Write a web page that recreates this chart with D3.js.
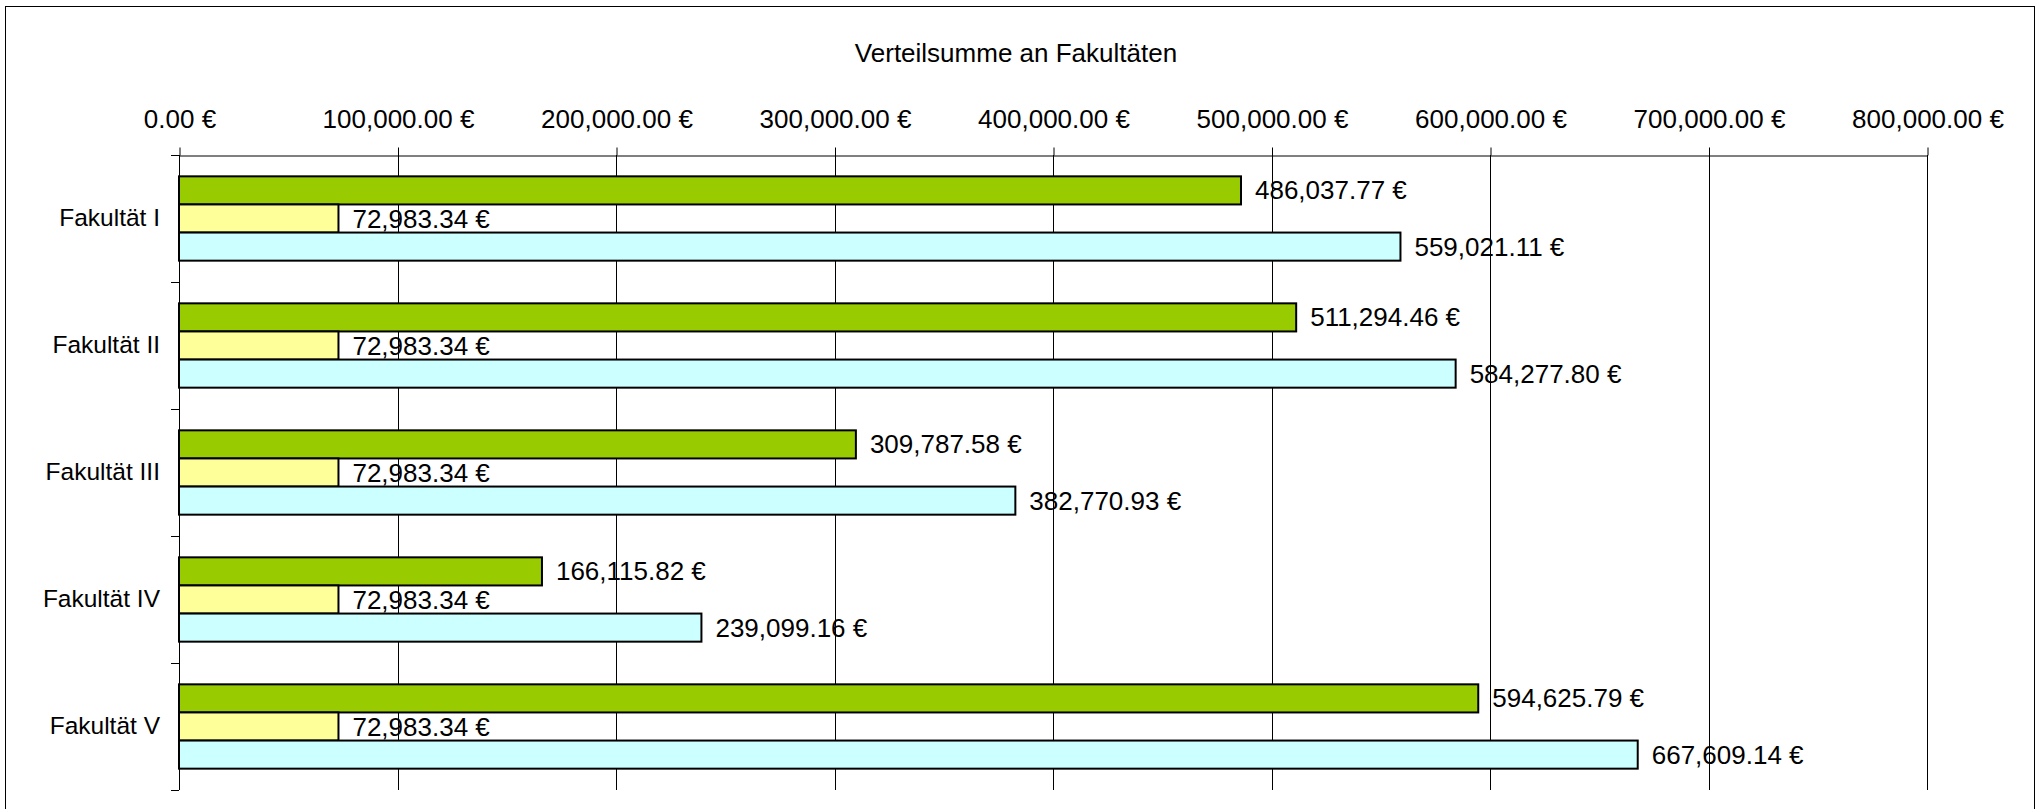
<!DOCTYPE html>
<html>
<head>
<meta charset="utf-8">
<script src="https://cdn.jsdelivr.net/npm/d3@7"></script>
<style>
  body { margin: 0; background: #fff; }
  svg text { font-family: "Liberation Sans", Arial, sans-serif; font-size: 26px; fill: #000; }
</style>
</head>
<body>
<div id="vis"></div>
<script>
const W = 2040, H = 809;
const margin = {top: 155, right: 113, bottom: 19, left: 179};

// data
const faculties = ['Fakultät I', 'Fakultät II', 'Fakultät III', 'Fakultät IV', 'Fakultät V'];
const seriesNames = ['Leistungsanteil', 'Sockelbetrag', 'Verteilsumme'];
const leistung = [486037.77, 511294.46, 309787.58, 166115.82, 594625.79];
const sockel = [72983.34, 72983.34, 72983.34, 72983.34, 72983.34];
const gesamt = [559021.11, 584277.80, 382770.93, 239099.16, 667609.14];
const xTicks = [0, 100000, 200000, 300000, 400000, 500000, 600000, 700000, 800000];
const colors = ['#99cc00', '#ffff99', '#ccffff'];

const seriesValues = [leistung, sockel, gesamt];
const rows = [];
faculties.forEach((f, i) => {
    seriesNames.forEach((s, j) => rows.push({fac: f, series: s, value: seriesValues[j][i], color: colors[j]}));
});

const fmt = v => d3.format(',.2f')(v) + ' €';

const svg = d3.select('#vis').append('svg')
    .attr('width', W)
    .attr('height', H);

// outer frame (bottom edge is cut off in the original)
svg.append('rect')
    .attr('x', 5.5).attr('y', 6.5)
    .attr('width', 2029).attr('height', 820)
    .attr('fill', 'none').attr('stroke', '#000').attr('stroke-width', 1);

svg.append('text')
    .attr('x', 1016).attr('y', 62)
    .attr('text-anchor', 'middle')
    .text('Verteilsumme an Fakultäten');

const x = d3.scaleLinear().domain([0, 800000]).range([margin.left, W - margin.right]);
const y = d3.scaleBand().domain(faculties).range([margin.top, H - margin.bottom]);
const gap = y.step() * 0.168;
const yInner = d3.scaleBand().domain(seriesNames).range([gap, y.step() - gap]);

// vertical gridlines
svg.append('g')
    .selectAll('line')
    .data(xTicks.slice(1))
    .join('line')
    .attr('x1', d => Math.round(x(d)) + 0.5)
    .attr('x2', d => Math.round(x(d)) + 0.5)
    .attr('y1', margin.top)
    .attr('y2', H - margin.bottom)
    .attr('stroke', '#000').attr('stroke-width', 1);

// top value axis
const xAxis = svg.append('g')
    .attr('transform', `translate(0.5,${margin.top + 0.5})`)
    .call(d3.axisTop(x).tickValues(xTicks).tickFormat(fmt).tickSize(8).tickPadding(20).tickSizeOuter(0));
xAxis.select('.domain').attr('stroke', '#000');
xAxis.selectAll('text').style('font-size', '26px').style('font-family', '"Liberation Sans", Arial, sans-serif');

// left category axis
const yTickVals = d3.range(faculties.length + 1).map(i => margin.top + i * y.step());
const left = svg.append('g');
left.append('line')
    .attr('x1', margin.left + 0.5).attr('x2', margin.left + 0.5)
    .attr('y1', margin.top).attr('y2', H - margin.bottom)
    .attr('stroke', '#000');
left.selectAll('.ytick')
    .data(yTickVals)
    .join('line')
    .attr('class', 'ytick')
    .attr('x1', margin.left - 8).attr('x2', margin.left)
    .attr('y1', d => Math.round(d) + 0.5).attr('y2', d => Math.round(d) + 0.5)
    .attr('stroke', '#000');
left.selectAll('text')
    .data(faculties)
    .join('text')
    .attr('x', margin.left - 19)
    .attr('y', d => y(d) + y.step() / 2 + 7)
    .attr('text-anchor', 'end')
    .style('font-size', '24.5px')
    .text(d => d);

// bars
svg.append('g')
    .selectAll('rect')
    .data(rows)
    .join('rect')
    .attr('x', x(0))
    .attr('y', d => y(d.fac) + yInner(d.series))
    .attr('width', d => x(d.value) - x(0))
    .attr('height', yInner.bandwidth())
    .attr('fill', d => d.color)
    .attr('stroke', '#000')
    .attr('stroke-width', 2);

// value labels
svg.append('g')
    .selectAll('text')
    .data(rows)
    .join('text')
    .attr('x', d => x(d.value) + 14)
    .attr('y', d => y(d.fac) + yInner(d.series) + yInner.bandwidth() / 2 + 9)
    .text(d => fmt(d.value));
</script>
</body>
</html>
